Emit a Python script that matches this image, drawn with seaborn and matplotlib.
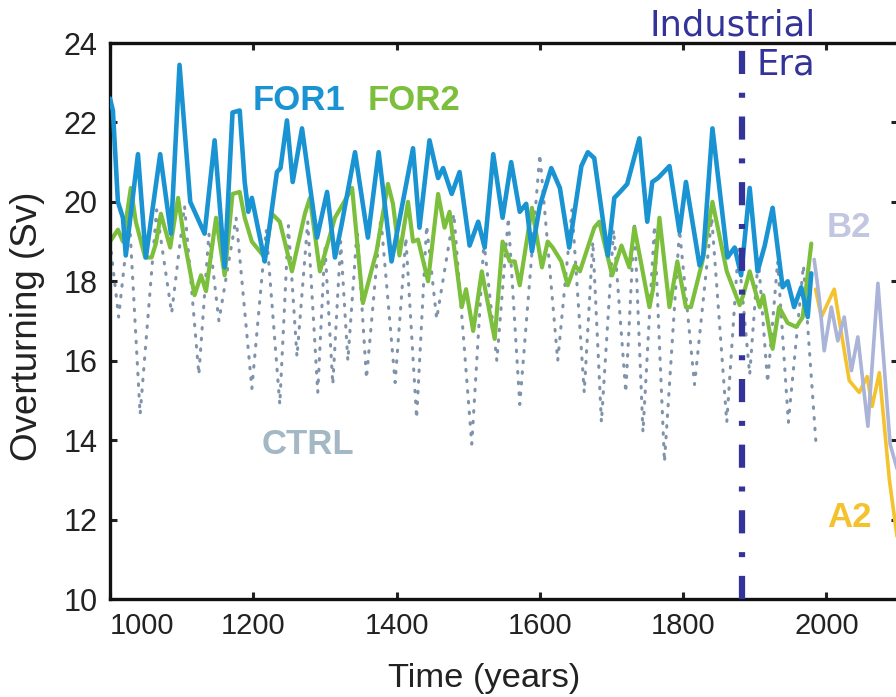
import matplotlib
matplotlib.use("Agg")
import matplotlib.pyplot as plt
import seaborn as sns
import pandas as pd

# ---------------- data ----------------
for1_years = [1000, 1004, 1011, 1018, 1022, 1039, 1050, 1070, 1085, 1097, 1112, 1132, 1146, 1160,
              1171, 1181, 1188, 1193, 1198, 1216, 1233, 1238, 1247, 1255, 1268, 1289, 1303, 1314,
              1323, 1342, 1360, 1375, 1393, 1423, 1432, 1446, 1458, 1465, 1477, 1488, 1502, 1514,
              1523, 1535, 1548, 1560, 1572, 1581, 1589, 1600, 1616, 1628, 1641, 1658, 1667, 1676,
              1695, 1704, 1712, 1722, 1739, 1750, 1757, 1765, 1781, 1795, 1804, 1823, 1828, 1841,
              1862, 1872, 1881, 1893, 1904, 1914, 1925, 1939, 1946, 1955, 1965, 1974, 1979]
for1_values = [22.6, 22.3, 20.0, 19.6, 18.65, 21.2, 18.6, 21.2, 19.2, 23.45, 20.0, 19.2, 21.55, 18.35,
               22.25, 22.3, 20.5, 19.75, 20.1, 18.5, 20.75, 20.85, 22.05, 20.5, 21.85, 19.1, 20.25, 18.6,
               19.4, 21.25, 19.1, 21.25, 18.5, 21.35, 19.35, 21.55, 20.6, 20.85, 20.2, 20.75, 18.9, 19.5,
               18.85, 21.2, 19.6, 21.0, 19.75, 19.95, 18.75, 19.9, 20.85, 20.35, 18.85, 20.9, 21.25, 21.1,
               18.65, 20.1, 20.25, 20.45, 21.6, 19.5, 20.5, 20.6, 20.9, 19.25, 20.5, 18.4, 18.65, 21.85,
               18.6, 18.85, 18.15, 20.35, 18.25, 18.9, 19.85, 17.85, 18.0, 17.35, 17.85, 17.1, 18.2]

for2_years = [1000, 1011, 1018, 1029, 1036, 1049, 1058, 1064, 1071, 1084, 1095, 1104, 1118, 1127,
              1134, 1148, 1160, 1171, 1181, 1188, 1198, 1216, 1226, 1237, 1254, 1272, 1279, 1293,
              1314, 1338, 1353, 1372, 1388, 1395, 1404, 1416, 1423, 1430, 1444, 1458, 1467, 1474,
              1491, 1497, 1507, 1519, 1537, 1548, 1558, 1565, 1572, 1589, 1603, 1611, 1618, 1630,
              1639, 1649, 1656, 1676, 1683, 1701, 1714, 1725, 1732, 1753, 1758, 1767, 1781, 1792,
              1804, 1811, 1827, 1841, 1861, 1879, 1884, 1893, 1907, 1912, 1925, 1934, 1946, 1958,
              1967, 1979]
for2_values = [19.0, 19.3, 19.0, 20.35, 19.5, 18.6, 18.6, 18.95, 19.7, 18.85, 20.1, 19.0, 17.65, 18.15,
               17.75, 19.6, 18.15, 20.2, 20.25, 19.6, 19.0, 18.6, 19.7, 19.5, 18.25, 19.7, 20.1, 18.25,
               19.6, 20.35, 17.45, 18.75, 20.45, 19.95, 18.65, 20.0, 19.0, 19.05, 18.0, 20.2, 19.35, 19.75,
               17.35, 17.8, 16.75, 18.25, 16.55, 19.0, 18.5, 18.5, 17.9, 19.85, 18.35, 19.0, 18.85, 18.5,
               17.9, 18.4, 18.25, 19.35, 19.5, 18.15, 18.9, 18.35, 19.35, 17.35, 17.8, 19.6, 17.35, 18.5,
               17.35, 17.35, 18.5, 20.0, 18.25, 17.4, 17.65, 18.25, 17.35, 17.65, 16.3, 17.35, 16.95, 16.85,
               17.1, 18.95]

ctrl_years = [1000, 1012, 1027, 1042, 1065, 1086, 1104, 1124, 1138, 1152, 1176, 1198, 1218, 1237,
              1249, 1261, 1276, 1290, 1300, 1311, 1322, 1332, 1345, 1358, 1378, 1398, 1413, 1428,
              1442, 1456, 1480, 1505, 1522, 1540, 1556, 1572, 1600, 1625, 1645, 1662, 1674, 1686,
              1703, 1720, 1732, 1744, 1760, 1774, 1795, 1816, 1840, 1861, 1877, 1893, 1905, 1918,
              1932, 1947, 1968, 1986]
ctrl_values = [19.0, 17.1, 19.6, 14.65, 19.8, 17.2, 19.9, 15.65, 19.2, 17.0, 19.6, 15.3, 19.3, 14.9,
               19.4, 16.1, 19.5, 15.2, 18.9, 15.4, 19.0, 16.0, 19.3, 15.55, 19.6, 15.45, 19.1, 14.55,
               19.4, 17.05, 19.7, 13.9, 19.0, 16.0, 19.6, 14.9, 21.2, 16.0, 19.8, 15.2, 19.0, 14.45,
               19.3, 15.2, 19.5, 14.2, 19.4, 13.45, 19.3, 15.4, 19.6, 14.45, 18.8, 15.65, 18.6, 15.45,
               18.5, 14.45, 18.4, 13.8]

b2_years = [1983, 1990, 1997, 2007, 2016, 2025, 2035, 2044, 2058, 2072, 2089, 2100]
b2_values = [18.55, 17.6, 16.25, 17.35, 16.5, 17.1, 15.75, 16.6, 14.35, 17.95, 13.9, 13.2]

a2_years = [1985, 1993, 2011, 2020, 2032, 2046, 2057, 2064, 2074, 2088, 2100]
a2_values = [17.8, 17.1, 17.8, 16.8, 15.5, 15.2, 15.6, 14.85, 15.7, 13.0, 11.4]

industrial_year = 1882

x_ticks = [1000, 1200, 1400, 1600, 1800, 2000]
y_ticks = [10, 12, 14, 16, 18, 20, 22, 24]

# ---------------- styling ----------------
sns.set_theme(style="ticks")
plt.rcParams['font.family'] = ['Liberation Sans', 'DejaVu Sans']

C_FOR1 = "#1a93d2"
C_FOR2 = "#7cbf3c"
C_CTRL = "#7f93aa"
C_B2 = "#aab3d8"
C_A2 = "#f3c22c"
C_IND = "#333399"

fig = plt.figure(figsize=(8.96, 6.97), dpi=100)
ax = fig.add_axes([0.1228, 0.1406, 0.8794, 0.7977])

df_ctrl = pd.DataFrame({"year": ctrl_years, "sv": ctrl_values})
df_for2 = pd.DataFrame({"year": for2_years, "sv": for2_values})
df_for1 = pd.DataFrame({"year": for1_years, "sv": for1_values})
df_b2 = pd.DataFrame({"year": b2_years, "sv": b2_values})
df_a2 = pd.DataFrame({"year": a2_years, "sv": a2_values})

rj = dict(solid_joinstyle="round", solid_capstyle="round")
sns.lineplot(data=df_ctrl, x="year", y="sv", ax=ax, color=C_CTRL, lw=2.2,
             linestyle=(0, (0.5, 3.0)), dash_capstyle="round", zorder=1)
sns.lineplot(data=df_for2, x="year", y="sv", ax=ax, color=C_FOR2, lw=3.0, zorder=2, **rj)
sns.lineplot(data=df_for1, x="year", y="sv", ax=ax, color=C_FOR1, lw=3.3, zorder=3, **rj)
sns.lineplot(data=df_a2, x="year", y="sv", ax=ax, color=C_A2, lw=2.6, zorder=2, **rj)
sns.lineplot(data=df_b2, x="year", y="sv", ax=ax, color=C_B2, lw=2.6, zorder=2, **rj)

ax.axvline(industrial_year, color=C_IND, lw=4.5, linestyle=(0, (3.7, 3.0, 0.8, 3.0)), zorder=4)

ax.set_xlim(1000, 2100)
ax.set_ylim(10, 24)
ax.set_xticks(x_ticks)
ax.set_yticks(y_ticks)
ax.set_xticklabels([str(v) for v in x_ticks])
ax.set_yticklabels([str(v) for v in y_ticks])

ax.tick_params(direction="in", length=5, width=2.2, top=True, right=True,
               colors="#222222")
ax.tick_params(axis="x", labelsize=21, pad=9)
ax.tick_params(axis="y", labelsize=22, pad=9)
ax.get_xticklabels()[0].set_horizontalalignment("left")
for s in ax.spines.values():
    s.set_linewidth(2.4)
    s.set_color("#111111")

ax.set_xlabel("Time (years)", fontsize=24.8, color="#222222")
ax.set_ylabel("Overturning (Sv)", fontsize=26.5, color="#222222")
ax.xaxis.set_label_coords(0.475, -0.115)
ax.yaxis.set_label_coords(-0.083, 0.49)

lbl = dict(fontsize=25, fontweight="bold", va="center", ha="left")
ax.text(1199, 22.55, "FOR1", color=C_FOR1, **lbl)
ax.text(1360, 22.55, "FOR2", color=C_FOR2, **lbl)
ax.text(1212, 13.9, "CTRL", color="#a3b8c4", **lbl)
ax.text(2001, 19.35, "B2", color="#c2c6e0", **lbl)
ax.text(2001, 12.05, "A2", color=C_A2, **lbl)

ax.text(1753, 24.45, "Industrial", color=C_IND, fontsize=25.5, ha="left", va="center",
        family="DejaVu Sans", clip_on=False)
ax.text(1902, 23.45, "Era", color=C_IND, fontsize=25.5, ha="left", va="center",
        family="DejaVu Sans")

fig.savefig("out.png", dpi=100)
